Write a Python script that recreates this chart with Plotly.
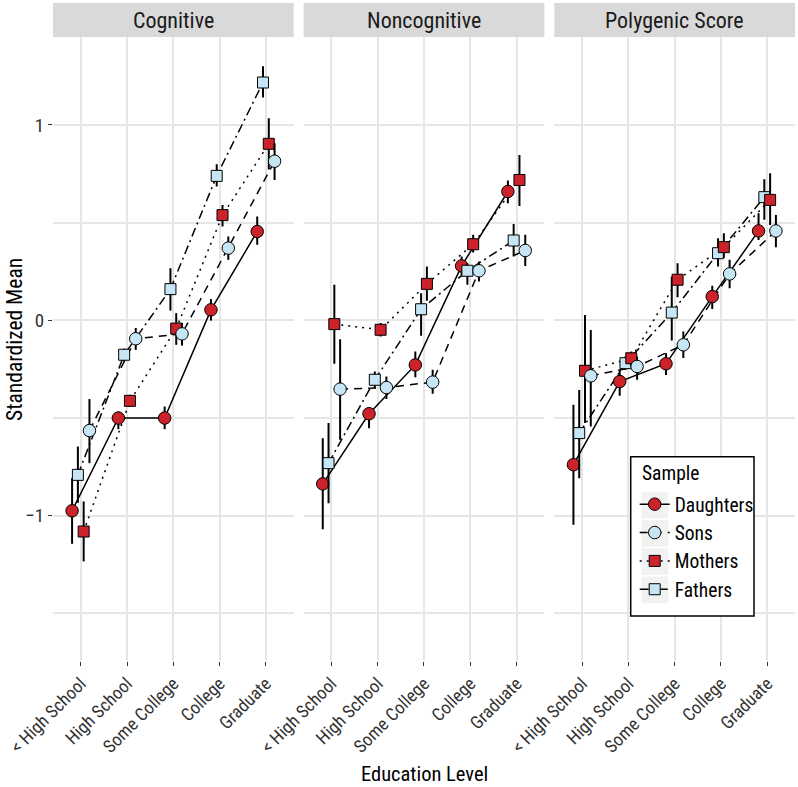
import plotly.graph_objects as go

# ---------------- data ----------------
categories = ["< High School", "High School", "Some College", "College", "Graduate"]
panels = ["Cognitive", "Noncognitive", "Polygenic Score"]
series_names = ["Daughters", "Sons", "Mothers", "Fathers"]

# Cognitive
cog_daughters = [-0.976, -0.501, -0.501, 0.053, 0.454]
cog_daughters_lo = [-1.145, -0.558, -0.558, -0.002, 0.386]
cog_daughters_hi = [-0.809, -0.468, -0.442, 0.108, 0.531]
cog_sons = [-0.565, -0.095, -0.070, 0.369, 0.814]
cog_sons_lo = [-0.732, -0.152, -0.130, 0.309, 0.718]
cog_sons_hi = [-0.404, -0.040, -0.014, 0.428, 0.906]
cog_mothers = [-1.082, -0.413, -0.043, 0.538, 0.903]
cog_mothers_lo = [-1.235, -0.442, -0.126, 0.480, 0.772]
cog_mothers_hi = [-0.928, -0.382, 0.036, 0.590, 1.034]
cog_fathers = [-0.792, -0.177, 0.159, 0.739, 1.217]
cog_fathers_lo = [-0.935, -0.210, 0.049, 0.684, 1.140]
cog_fathers_hi = [-0.647, -0.145, 0.266, 0.799, 1.300]

# Noncognitive
non_daughters = [-0.838, -0.479, -0.229, 0.278, 0.659]
non_daughters_lo = [-1.070, -0.553, -0.292, 0.232, 0.599]
non_daughters_hi = [-0.604, -0.450, -0.160, 0.326, 0.715]
non_sons = [-0.353, -0.345, -0.317, 0.253, 0.357]
non_sons_lo = [-0.612, -0.404, -0.377, 0.198, 0.278]
non_sons_hi = [-0.097, -0.288, -0.254, 0.300, 0.437]
non_mothers = [-0.020, -0.049, 0.186, 0.389, 0.718]
non_mothers_lo = [-0.223, -0.084, 0.100, 0.346, 0.585]
non_mothers_hi = [0.181, -0.015, 0.275, 0.437, 0.846]
non_fathers = [-0.732, -0.305, 0.056, 0.253, 0.408]
non_fathers_lo = [-0.937, -0.348, -0.080, 0.181, 0.326]
non_fathers_hi = [-0.527, -0.263, 0.138, 0.292, 0.493]

# Polygenic Score
pgs_daughters = [-0.740, -0.314, -0.223, 0.121, 0.457]
pgs_daughters_lo = [-1.048, -0.387, -0.280, 0.057, 0.411]
pgs_daughters_hi = [-0.433, -0.254, -0.169, 0.176, 0.548]
pgs_sons = [-0.285, -0.237, -0.126, 0.237, 0.457]
pgs_sons_lo = [-0.544, -0.305, -0.194, 0.164, 0.374]
pgs_sons_hi = [-0.050, -0.186, -0.058, 0.309, 0.539]
pgs_mothers = [-0.259, -0.195, 0.207, 0.374, 0.616]
pgs_mothers_lo = [-0.527, -0.237, 0.118, 0.318, 0.488]
pgs_mothers_hi = [0.027, -0.160, 0.292, 0.445, 0.753]
pgs_fathers = [-0.578, -0.220, 0.039, 0.343, 0.630]
pgs_fathers_lo = [-0.809, -0.254, -0.104, 0.275, 0.514]
pgs_fathers_hi = [-0.357, -0.186, 0.223, 0.420, 0.722]

y_tickvals = [-1, 0, 1]
y_ticktext = ["\u22121", "0", "1"]

data = {
    "Cognitive": {
        "Daughters": (cog_daughters, cog_daughters_lo, cog_daughters_hi),
        "Sons": (cog_sons, cog_sons_lo, cog_sons_hi),
        "Mothers": (cog_mothers, cog_mothers_lo, cog_mothers_hi),
        "Fathers": (cog_fathers, cog_fathers_lo, cog_fathers_hi),
    },
    "Noncognitive": {
        "Daughters": (non_daughters, non_daughters_lo, non_daughters_hi),
        "Sons": (non_sons, non_sons_lo, non_sons_hi),
        "Mothers": (non_mothers, non_mothers_lo, non_mothers_hi),
        "Fathers": (non_fathers, non_fathers_lo, non_fathers_hi),
    },
    "Polygenic Score": {
        "Daughters": (pgs_daughters, pgs_daughters_lo, pgs_daughters_hi),
        "Sons": (pgs_sons, pgs_sons_lo, pgs_sons_hi),
        "Mothers": (pgs_mothers, pgs_mothers_lo, pgs_mothers_hi),
        "Fathers": (pgs_fathers, pgs_fathers_lo, pgs_fathers_hi),
    },
}

# ---------------- styles ----------------
RED = "#CC2229"
BLUE = "#C6E6F5"
style = {
    "Daughters": dict(color=RED, symbol="circle", size=12.5, dash="solid"),
    "Sons": dict(color=BLUE, symbol="circle", size=12.5, dash="8px,6px"),
    "Mothers": dict(color=RED, symbol="square", size=11, dash="2px,5px"),
    "Fathers": dict(color=BLUE, symbol="square", size=11, dash="9px,4px,2px,4px"),
}
# dodge order (alphabetical, as in ggplot)
dodge_order = sorted(series_names)
DODGE_WIDTH = 0.5
n = len(dodge_order)
offsets = {s: (i - (n - 1) / 2) * DODGE_WIDTH / n for i, s in enumerate(dodge_order)}

FONT = "Liberation Sans Narrow, Roboto Condensed, Arial Narrow, sans-serif"
GRID = "#e6e6e6"

W, H = 798, 787
ML, MR, MT, MB = 53, 3, 37, 126
PW, PH = W - ML - MR, H - MT - MB


def px_x(x):
    return (x - ML) / PW


def px_y(y):
    return 1 - (y - MT) / PH


fig = go.Figure()

gap = 10 / PW
w = (1 - 2 * gap) / 3
domains = [[i * (w + gap), i * (w + gap) + w] for i in range(3)]

for pi, panel in enumerate(panels):
    xa = "x" if pi == 0 else f"x{pi + 1}"
    ya = "y"
    # lines first
    for s in dodge_order:
        m, lo, hi = data[panel][s]
        xs = [i + offsets[s] for i in range(len(categories))]
        fig.add_trace(go.Scatter(
            x=xs, y=m, mode="lines", xaxis=xa, yaxis=ya, showlegend=False,
            line=dict(color="black", width=1.5, dash=style[s]["dash"]),
            hoverinfo="skip"))
    # error bars + points
    for s in dodge_order:
        m, lo, hi = data[panel][s]
        xs = [i + offsets[s] for i in range(len(categories))]
        fig.add_trace(go.Scatter(
            x=xs, y=m, mode="markers", xaxis=xa, yaxis=ya, showlegend=False,
            marker=dict(color=style[s]["color"], symbol=style[s]["symbol"],
                        size=style[s]["size"], line=dict(color="black", width=1)),
            error_y=dict(type="data", symmetric=False,
                         array=[h - v for h, v in zip(hi, m)],
                         arrayminus=[v - l for v, l in zip(m, lo)],
                         color="black", thickness=2, width=0),
            name=s))

# legend-only entries
for s in series_names:
    fig.add_trace(go.Scatter(
        x=[None], y=[None], mode="lines+markers", name=s,
        marker=dict(color=style[s]["color"], symbol=style[s]["symbol"],
                    size=style[s]["size"], line=dict(color="black", width=1)),
        line=dict(color="black", width=1.5, dash=style[s]["dash"])))

axis_common = dict(
    range=[-0.6, 4.6], tickmode="array", tickvals=list(range(len(categories))),
    ticktext=categories, tickangle=-45, showgrid=True, gridcolor=GRID, gridwidth=1.6,
    zeroline=False, showline=False, ticks="outside", ticklen=4, tickwidth=1.2,
    tickcolor="#333333", tickfont=dict(family=FONT, size=18, color="#333333"),
)

# legend box geometry (pixels)
LEG_L, LEG_R, LEG_T, LEG_B = 630.7, 754.0, 456.7, 616.0
ITEM_Y0, ITEM_STEP = 505.0, 28.3

layout = dict(
    width=W, height=H,
    margin=dict(l=ML, r=MR, t=MT, b=MB),
    plot_bgcolor="white", paper_bgcolor="white",
    font=dict(family=FONT, color="black"),
    yaxis=dict(range=[-1.745, 1.45], tickvals=y_tickvals, ticktext=y_ticktext,
               showgrid=True, gridcolor=GRID, gridwidth=1.6, zeroline=False,
               ticks="outside", ticklen=4, tickwidth=1.2, tickcolor="#333333",
               tickfont=dict(family=FONT, size=19, color="#333333"),
               minor=dict(dtick=0.5, tick0=0, showgrid=True, gridcolor=GRID,
                          gridwidth=1.6, ticks="")),
    showlegend=True,
    legend=dict(x=px_x(LEG_L + 4), y=px_y(ITEM_Y0 - 20), xanchor="left", yanchor="top",
                bgcolor="rgba(0,0,0,0)", borderwidth=0,
                font=dict(family=FONT, size=19.5, color="black"),
                tracegroupgap=0, itemwidth=30),
)
for pi in range(3):
    key = "xaxis" if pi == 0 else f"xaxis{pi + 1}"
    ax = dict(axis_common)
    ax["domain"] = domains[pi]
    ax["anchor"] = "y"
    layout[key] = ax

shapes = []
annotations = []
strip_h = 34 / PH
for pi, panel in enumerate(panels):
    shapes.append(dict(type="rect", xref="paper", yref="paper",
                       x0=domains[pi][0], x1=domains[pi][1], y0=1, y1=1 + strip_h,
                       fillcolor="#d9d9d9", line=dict(width=0), layer="below"))
    annotations.append(dict(text=panel, xref="paper", yref="paper",
                            x=(domains[pi][0] + domains[pi][1]) / 2, y=1 + strip_h / 2,
                            showarrow=False, xanchor="center", yanchor="middle",
                            font=dict(family=FONT, size=22, color="#1a1a1a")))

# legend frame and key backgrounds
shapes.append(dict(type="rect", xref="paper", yref="paper",
                   x0=px_x(LEG_L), x1=px_x(LEG_R), y0=px_y(LEG_B), y1=px_y(LEG_T),
                   fillcolor="white", line=dict(color="black", width=1.5), layer="above"))
for k in range(len(series_names)):
    cy = ITEM_Y0 + k * ITEM_STEP
    shapes.append(dict(type="rect", xref="paper", yref="paper",
                       x0=px_x(641.7), x1=px_x(668.3), y0=px_y(cy + 13.3), y1=px_y(cy - 13.3),
                       fillcolor="#f2f2f2", line=dict(width=0), layer="above"))
annotations.append(dict(text="Sample", xref="paper", yref="paper",
                        x=px_x(639.5), y=px_y(473.5), showarrow=False,
                        xanchor="left", yanchor="middle",
                        font=dict(family=FONT, size=19.5, color="black")))

annotations.append(dict(text="Standardized Mean", xref="paper", yref="paper",
                        x=px_x(14), y=px_y(340), textangle=-90,
                        showarrow=False, xanchor="center", yanchor="middle",
                        font=dict(family=FONT, size=21.5, color="black")))
annotations.append(dict(text="Education Level", xref="paper", yref="paper",
                        x=0.5, y=px_y(774),
                        showarrow=False, xanchor="center", yanchor="middle",
                        font=dict(family=FONT, size=20.5, color="black")))
layout["shapes"] = shapes
layout["annotations"] = annotations
fig.update_layout(**layout)

fig.write_html(
    "out.html",
    config={"displayModeBar": False},
    post_script="document.body.style.margin='0';document.body.style.padding='0';"
                "document.body.style.overflow='hidden';",
)
